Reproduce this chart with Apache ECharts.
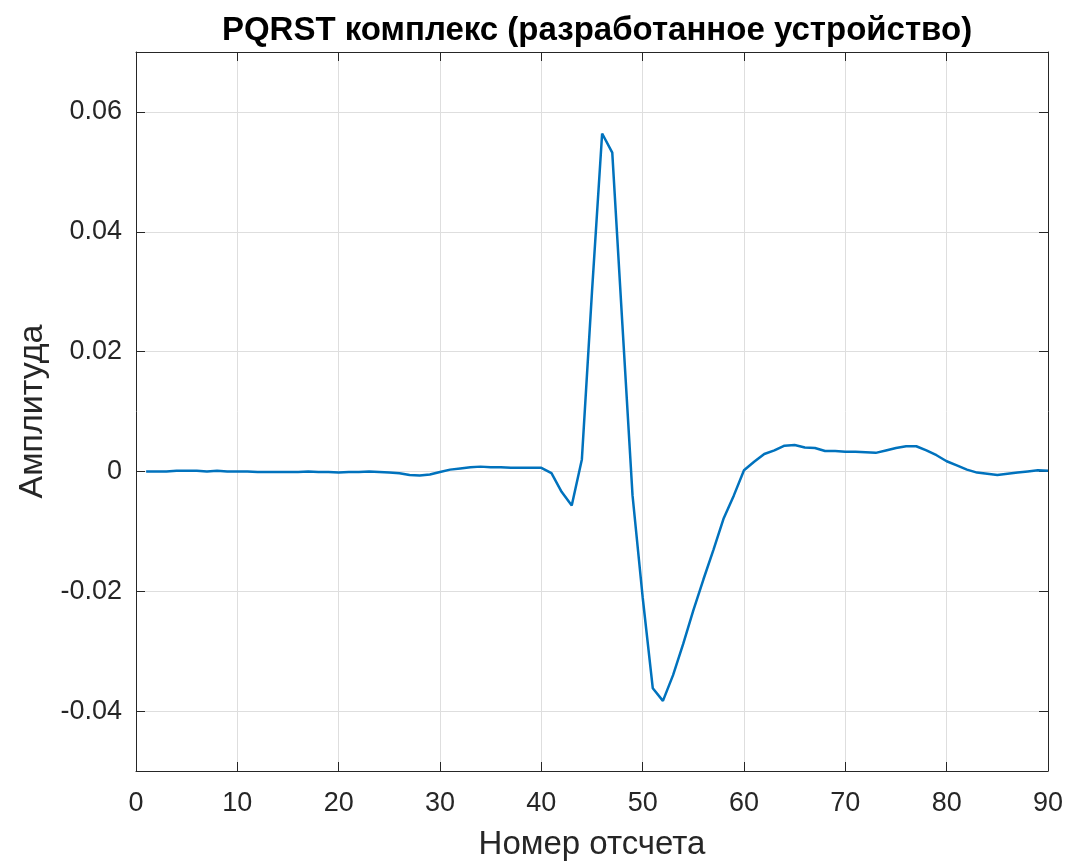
<!DOCTYPE html>
<html>
<head>
<meta charset="utf-8">
<title>PQRST комплекс</title>
<script src="https://cdn.jsdelivr.net/npm/echarts@6/dist/echarts.min.js"></script>
<style>
  html, body { margin: 0; padding: 0; background: #ffffff; }
  #chart { width: 1068px; height: 863px; }
</style>
</head>
<body>
<div id="chart"></div>
<script>
// Amplitude of one PQRST complex, sample numbers 1..90
const amplitude = [
  0.0000, 0.0000, 0.0000, 0.0001, 0.0001, 0.0001, 0.0000, 0.0001, 0.0000, 0.0000,
  0.0000, -0.0001, -0.0001, -0.0001, -0.0001, -0.0001, 0.0000, -0.0001, -0.0001, -0.0002,
  -0.0001, -0.0001, 0.0000, -0.0001, -0.0002, -0.0003, -0.0006, -0.0007, -0.0005, -0.0001,
  0.0003, 0.0005, 0.0007, 0.0008, 0.0007, 0.0007, 0.0006, 0.0006, 0.0006, 0.0006,
  -0.0003, -0.0034, -0.0057, 0.0020, 0.0300, 0.0564, 0.0532, 0.0245, -0.0040, -0.0210,
  -0.0362, -0.0383, -0.0340, -0.0288, -0.0232, -0.0180, -0.0130, -0.0078, -0.0040, 0.0002,
  0.0016, 0.0029, 0.0035, 0.0043, 0.0044, 0.0040, 0.0039, 0.0034, 0.0034, 0.0033,
  0.0033, 0.0032, 0.0031, 0.0035, 0.0039, 0.0042, 0.0042, 0.0035, 0.0027, 0.0017,
  0.0010, 0.0003, -0.0002, -0.0004, -0.0006, -0.0004, -0.0002, 0.0000, 0.0002, 0.0001
];
const firstSample = 1;

// Axis ranges and tick positions
const xRange = [0, 90];
const xStep = 10;
const yRange = [-0.05, 0.07];
const yTicks = [-0.04, -0.02, 0, 0.02, 0.04, 0.06];

const titleText = 'PQRST комплекс (разработанное устройство)';
const xName = 'Номер отсчета';
const yName = 'Амплитуда';

const points = amplitude.map((v, i) => [firstSample + i, v]);

const FONT = "'Liberation Sans', Arial, Helvetica, sans-serif";
const INK = '#262626';
const GRID = '#dedede';
const TICK_LEN = 9;

function yLabel(v) {
  if (Math.abs(v) < 1e-12) return '0';
  return String(Number(v.toFixed(2)));
}

const chart = echarts.init(document.getElementById('chart'), null, { renderer: 'canvas' });

chart.setOption({
  backgroundColor: '#ffffff',
  animation: false,
  title: {
    text: titleText,
    left: 592,
    top: 9,
    textAlign: 'center',
    textStyle: { fontFamily: FONT, fontSize: 33, fontWeight: 'bold', color: '#000000' }
  },
  grid: { left: 136, right: 20, top: 52, bottom: 92, containLabel: false, outerBoundsMode: 'none' },
  xAxis: [
    {
      type: 'value',
      min: xRange[0], max: xRange[1], interval: xStep,
      position: 'bottom',
      name: xName,
      nameLocation: 'middle',
      nameGap: 57,
      nameTextStyle: { fontFamily: FONT, fontSize: 33, color: INK },
      axisLine: { show: true, onZero: false, lineStyle: { color: INK, width: 1 } },
      axisTick: { show: true, inside: true, length: TICK_LEN, lineStyle: { color: INK } },
      axisLabel: { fontFamily: FONT, fontSize: 27, color: INK, margin: 19 },
      splitLine: { show: true, lineStyle: { color: GRID, width: 1 } }
    },
    {
      type: 'value',
      min: xRange[0], max: xRange[1], interval: xStep,
      position: 'top',
      axisLine: { show: true, onZero: false, lineStyle: { color: INK, width: 1 } },
      axisTick: { show: true, inside: true, length: TICK_LEN, lineStyle: { color: INK } },
      axisLabel: { show: false },
      splitLine: { show: false }
    }
  ],
  yAxis: [
    {
      type: 'value',
      min: yRange[0], max: yRange[1],
      position: 'left',
      name: yName,
      nameLocation: 'middle',
      nameGap: 84,
      nameRotate: 90,
      nameTextStyle: { fontFamily: FONT, fontSize: 34, color: INK },
      axisLine: { show: true, onZero: false, lineStyle: { color: INK, width: 1 } },
      axisTick: { show: true, inside: true, length: TICK_LEN, customValues: yTicks, lineStyle: { color: INK } },
      axisLabel: { fontFamily: FONT, fontSize: 27, color: INK, margin: 14, customValues: yTicks, formatter: yLabel },
      splitLine: { show: true, lineStyle: { color: GRID, width: 1 } }
    },
    {
      type: 'value',
      min: yRange[0], max: yRange[1],
      position: 'right',
      axisLine: { show: true, onZero: false, lineStyle: { color: INK, width: 1 } },
      axisTick: { show: true, inside: true, length: TICK_LEN, customValues: yTicks, lineStyle: { color: INK } },
      axisLabel: { show: false },
      splitLine: { show: false }
    }
  ],
  series: [
    {
      type: 'line',
      xAxisIndex: 0,
      yAxisIndex: 0,
      data: points,
      showSymbol: false,
      smooth: false,
      clip: true,
      lineStyle: { color: '#0072BD', width: 2.5 },
      itemStyle: { color: '#0072BD' },
      z: 5
    }
  ]
});
</script>
</body>
</html>
